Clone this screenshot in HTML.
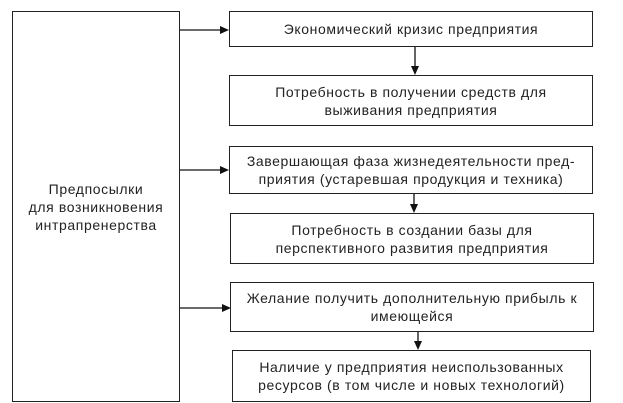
<!DOCTYPE html>
<html><head><meta charset="utf-8"><style>
body{margin:0;width:623px;height:403px;background:#fff;position:relative;overflow:hidden;font-family:"Liberation Sans",Arial,sans-serif;}
.b{position:absolute;box-sizing:border-box;border:1.3px solid #222;display:flex;align-items:center;justify-content:center;text-align:center;font-size:14px;line-height:18px;letter-spacing:0.6px;color:#222;}
svg{position:absolute;left:0;top:0;}
</style></head><body>
<svg width="623" height="403">
<g stroke="#111" stroke-width="1.3" fill="none">
<line x1="179" y1="30" x2="221" y2="30"/>
<line x1="179" y1="170" x2="222" y2="170"/>
<line x1="179" y1="308" x2="224" y2="308"/>
<line x1="415" y1="47" x2="415" y2="68"/>
<line x1="414" y1="193" x2="414" y2="206"/>
<line x1="418" y1="332" x2="418" y2="343"/>
</g>
<g fill="#111">
<polygon points="229,30 220,26 220,34"/>
<polygon points="229,170 220,166 220,174"/>
<polygon points="231,308 222,304 222,312"/>
<polygon points="415,75 411,66 419,66"/>
<polygon points="414,213 410,204 418,204"/>
<polygon points="418,350 414,341 422,341"/>
</g>
</svg>
<div class="b" style="left:12px;top:11px;width:168px;height:391px;">Предпосылки<br>для возникновения<br>интрапренерства</div>
<div class="b" style="left:229px;top:11px;width:364px;height:36px;">Экономический кризис предприятия</div>
<div class="b" style="left:229px;top:75px;width:364px;height:51px;">Потребность в получении средств для<br>выживания предприятия</div>
<div class="b" style="left:229px;top:146px;width:364px;height:48px;">Завершающая фаза жизнедеятельности пред-<br>приятия (устаревшая продукция и техника)</div>
<div class="b" style="left:230px;top:213px;width:364px;height:51px;">Потребность в создании базы для<br>перспективного развития предприятия</div>
<div class="b" style="left:230px;top:282px;width:364px;height:50px;">Желание получить дополнительную прибыль к<br>имеющейся</div>
<div class="b" style="left:232px;top:350px;width:359px;height:52px;">Наличие у предприятия неиспользованных<br>ресурсов (в том числе и новых технологий)</div>
</body></html>
